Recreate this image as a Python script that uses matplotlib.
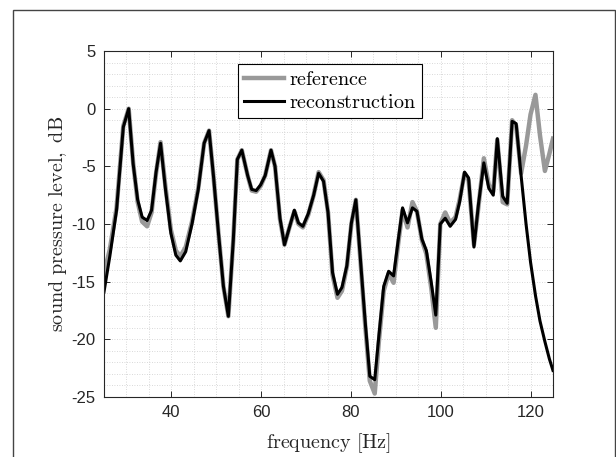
import numpy as np
import matplotlib
matplotlib.use("Agg")
import matplotlib.pyplot as plt
from matplotlib.patches import Rectangle
from matplotlib.ticker import MultipleLocator

# values
freq = [25.0, 26.3, 27.8, 29.3, 30.5, 31.5, 32.5, 33.5, 34.6, 35.6,
        36.6, 37.6, 38.7, 39.9, 41.0, 42.0, 43.2, 44.6, 46.0, 47.3,
        48.4, 49.4, 50.5, 51.6, 52.7, 53.8, 54.7, 55.7, 57.0, 57.9,
        58.9, 59.9, 60.9, 62.2, 63.1, 64.2, 65.2, 66.3, 67.4, 68.3,
        69.3, 70.5, 71.7, 72.8, 73.9, 74.9, 75.9, 77.0, 78.0, 79.1,
        80.1, 81.1, 82.2, 83.2, 84.2, 85.3, 86.2, 87.3, 88.4, 89.5,
        90.5, 91.5, 92.6, 93.7, 94.7, 95.8, 96.8, 97.9, 98.9, 99.9,
        101.0, 102.1, 103.3, 104.2, 105.3, 106.2, 107.4, 108.4, 109.6, 110.7,
        111.7, 112.6, 113.8, 114.8, 115.9, 116.8, 117.9, 119.0, 120.0, 121.1,
        122.1, 123.2, 124.2, 125.0]

reconstruction = [-15.9, -12.8, -8.8, -1.6, 0.0, -4.8, -7.9, -9.4, -9.7, -8.8,
                  -5.5, -3.0, -7.0, -10.8, -12.7, -13.2, -12.4, -10.0, -7.0, -3.0,
                  -1.9, -5.9, -10.8, -15.4, -18.0, -11.4, -4.4, -3.6, -5.8, -7.0,
                  -7.1, -6.6, -5.8, -3.6, -5.0, -9.5, -11.8, -10.3, -8.8, -9.9,
                  -10.2, -9.1, -7.5, -5.6, -6.3, -9.0, -14.2, -16.1, -15.5, -13.6,
                  -9.9, -7.9, -13.5, -18.6, -23.2, -23.5, -19.8, -15.4, -14.1, -14.5,
                  -11.5, -8.6, -9.9, -8.6, -8.9, -11.3, -12.3, -15.1, -17.9, -10.0,
                  -9.5, -10.2, -9.6, -8.1, -5.5, -6.0, -12.0, -8.3, -4.7, -6.9,
                  -7.5, -2.6, -7.6, -8.2, -1.1, -1.3, -5.8, -10.0, -13.3, -16.2,
                  -18.4, -20.2, -21.7, -22.7]

reference = [-14.3, -12.2, -8.6, -1.5, 0.0, -4.7, -8.1, -9.8, -10.2, -9.0,
             -5.6, -2.9, -6.8, -10.5, -12.3, -12.8, -12.0, -9.8, -6.9, -3.0,
             -1.9, -5.9, -10.8, -15.4, -18.0, -11.4, -4.4, -3.6, -5.8, -7.1,
             -7.2, -6.7, -5.8, -3.6, -5.0, -9.6, -11.8, -10.3, -8.9, -10.0,
             -10.3, -9.2, -7.5, -5.5, -6.2, -9.0, -14.4, -16.4, -15.8, -13.7,
             -10.0, -7.9, -13.6, -18.9, -23.6, -24.7, -20.3, -15.8, -14.3, -15.1,
             -11.8, -8.8, -10.3, -8.1, -8.9, -11.4, -12.6, -15.6, -19.0, -10.0,
             -9.0, -9.9, -9.4, -7.9, -5.6, -6.2, -11.8, -8.5, -4.3, -6.6,
             -7.2, -2.7, -8.1, -8.3, -1.0, -1.5, -5.6, -3.2, -0.5, 1.2,
             -2.3, -5.4, -3.9, -2.6]

plt.rcParams['mathtext.fontset'] = 'cm'
plt.rcParams['axes.unicode_minus'] = False
plt.rcParams['font.family'] = ['Liberation Sans', 'DejaVu Sans']

fig = plt.figure(figsize=(6.16, 4.57), dpi=100)
fig.patches.append(Rectangle((0.0211, -0.05), 0.977, 1.028, transform=fig.transFigure,
                             fill=False, edgecolor='#444444', linewidth=1.0))

ax = fig.add_axes([0.1688, 0.1313, 0.7289, 0.7571])
ax.plot(freq, reference, color='#999999', linewidth=3.2, label=r'$\mathrm{reference}$')
ax.plot(freq, reconstruction, color='black', linewidth=2.2, label=r'$\mathrm{reconstruction}$')

ax.set_xlim(25, 125)
ax.set_ylim(-25, 5)
ax.set_xticks([40, 60, 80, 100, 120])
ax.set_yticks([-25, -20, -15, -10, -5, 0, 5])
ax.xaxis.set_minor_locator(MultipleLocator(5))
ax.yaxis.set_minor_locator(MultipleLocator(1))
ax.grid(True, which='both', linestyle=(0, (1, 2)), color='#cccccc', linewidth=0.6)
ax.tick_params(which='major', direction='in', top=True, right=True, length=4,
               labelsize=12, colors='#262626', width=0.7, pad=6)
ax.tick_params(which='minor', length=0)
for s in ax.spines.values():
    s.set_color('#262626')
    s.set_linewidth(0.8)

ax.set_xlabel(r'$\mathrm{frequency\ [Hz]}$', fontsize=14.5, color='#262626', labelpad=8)
ax.set_ylabel(r'$\mathrm{sound\ pressure\ level,\ dB}$', fontsize=14.5, color='#262626',
              labelpad=2)

lgd = ax.legend(loc='upper left', bbox_to_anchor=(0.298, 0.962), borderaxespad=0,
                fontsize=14.5, fancybox=False, framealpha=1, edgecolor='black',
                handlelength=2.0, handletextpad=0.25, borderpad=0.3, labelspacing=0.2)
lgd.get_frame().set_linewidth(0.8)

plt.savefig('out.png', dpi=100)
